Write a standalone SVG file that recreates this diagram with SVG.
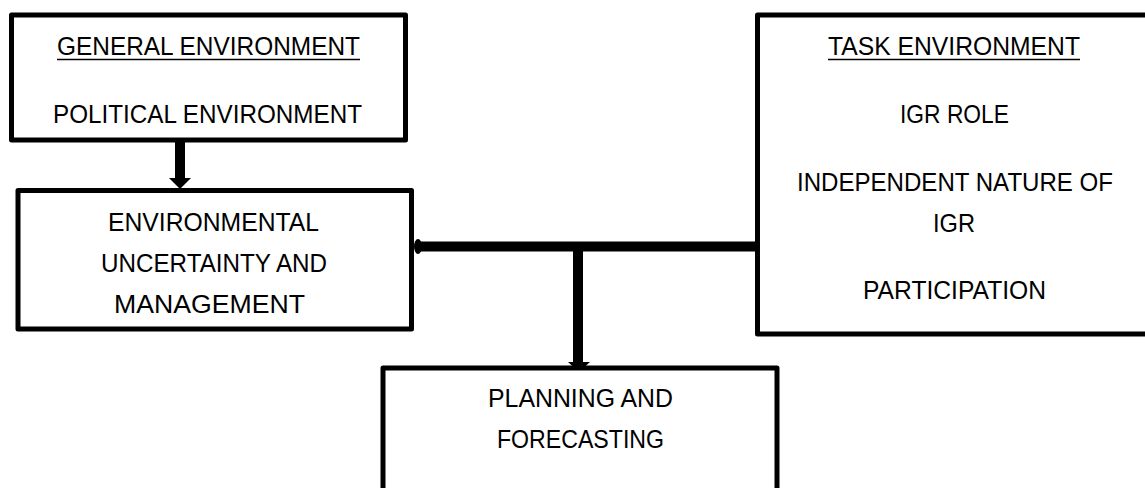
<svg xmlns="http://www.w3.org/2000/svg" width="1145" height="488" viewBox="0 0 1145 488">
  <style>
    .box { fill: #ffffff; stroke: #000000; stroke-width: 5; stroke-linejoin: round; }
    .lbl { font-family: "Liberation Sans", Arial, sans-serif; font-size: 25px; fill: #000000; text-anchor: middle; }
    .ul { stroke: #000000; stroke-width: 1.6; }
    .wire { stroke: #000000; stroke-width: 10; fill: none; }
    .head { fill: #000000; }
  </style>
  <rect x="0" y="0" width="1145" height="488" fill="#ffffff"/>

  <!-- connectors -->
  <g id="connectors">
    <!-- general environment down to uncertainty box -->
    <line class="wire" x1="180" y1="142" x2="180" y2="179"/>
    <polygon class="head" points="169,178 191,178 180,189"/>
    <!-- task environment across to uncertainty box -->
    <line class="wire" x1="757" y1="246.5" x2="417" y2="246.5"/>
    <ellipse class="head" cx="418" cy="246.5" rx="4" ry="7.5"/>
    <!-- branch down to planning -->
    <line class="wire" x1="578" y1="246" x2="578" y2="363"/>
    <polygon class="head" points="568,362 590,362 579,372"/>
  </g>

  <g id="node-general">
    <rect class="box" x="11.5" y="15" width="394" height="125"/>
    <text class="lbl" x="208.5" y="55" textLength="303" lengthAdjust="spacingAndGlyphs">GENERAL ENVIRONMENT</text>
    <line class="ul" x1="57" y1="59.5" x2="360" y2="59.5"/>
    <text class="lbl" x="207.5" y="123" textLength="309" lengthAdjust="spacingAndGlyphs">POLITICAL ENVIRONMENT</text>
  </g>

  <g id="node-uncertainty">
    <rect class="box" x="18" y="190.5" width="393.5" height="138.5"/>
    <text class="lbl" x="213.5" y="231" textLength="211" lengthAdjust="spacingAndGlyphs">ENVIRONMENTAL</text>
    <text class="lbl" x="214" y="272" textLength="226" lengthAdjust="spacingAndGlyphs">UNCERTAINTY AND</text>
    <text class="lbl" x="209.5" y="313" textLength="191" lengthAdjust="spacingAndGlyphs">MANAGEMENT</text>
  </g>

  <g id="node-task">
    <rect class="box" x="757.5" y="15" width="396" height="319"/>
    <text class="lbl" x="954" y="55" textLength="252" lengthAdjust="spacingAndGlyphs">TASK ENVIRONMENT</text>
    <line class="ul" x1="828" y1="59.5" x2="1080" y2="59.5"/>
    <text class="lbl" x="954.5" y="123" textLength="109" lengthAdjust="spacingAndGlyphs">IGR ROLE</text>
    <text class="lbl" x="955" y="191" textLength="316" lengthAdjust="spacingAndGlyphs">INDEPENDENT NATURE OF</text>
    <text class="lbl" x="954" y="232" textLength="42" lengthAdjust="spacingAndGlyphs">IGR</text>
    <text class="lbl" x="954.5" y="299" textLength="183" lengthAdjust="spacingAndGlyphs">PARTICIPATION</text>
  </g>

  <g id="node-planning">
    <rect class="box" x="383" y="368" width="394" height="140"/>
    <text class="lbl" x="580.5" y="407" textLength="185" lengthAdjust="spacingAndGlyphs">PLANNING AND</text>
    <text class="lbl" x="580.5" y="448" textLength="167" lengthAdjust="spacingAndGlyphs">FORECASTING</text>
  </g>
</svg>
